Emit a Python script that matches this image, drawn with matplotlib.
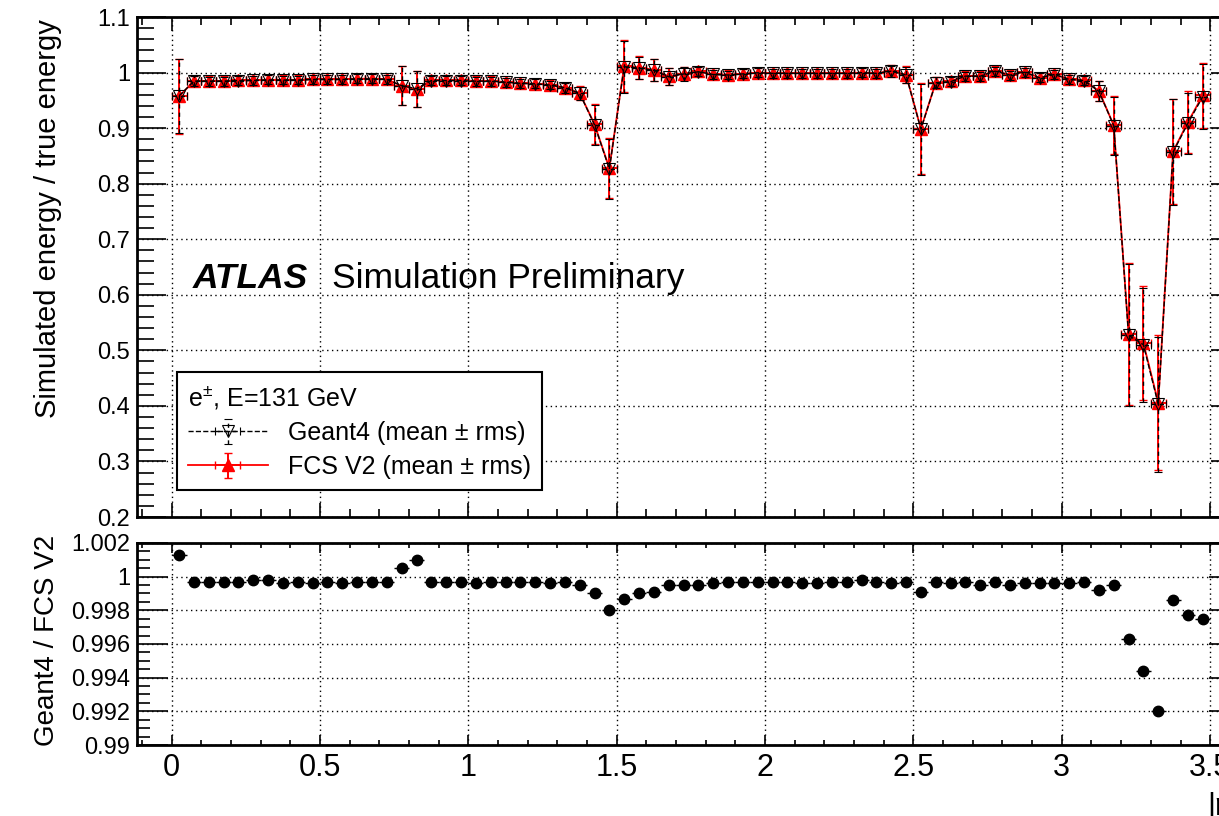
import numpy as np
import matplotlib.pyplot as plt
from matplotlib.ticker import MultipleLocator

plt.rcParams['font.family'] = ['Liberation Sans', 'DejaVu Sans']
plt.rcParams['mathtext.fontset'] = 'custom'
plt.rcParams['mathtext.rm'] = 'Liberation Sans'
plt.rcParams['mathtext.it'] = 'Liberation Sans:italic'

# |eta| bin centres (bins of 0.05)
eta = np.arange(70) * 0.05 + 0.025

# FCS V2 mean of E_sim / E_true per bin
fcs_mean = [0.957, 0.985, 0.985, 0.985, 0.986, 0.986, 0.987, 0.987, 0.987, 0.988,
            0.988, 0.988, 0.989, 0.989, 0.988, 0.976, 0.970, 0.986, 0.986, 0.986,
            0.985, 0.985, 0.983, 0.981, 0.980, 0.978, 0.973, 0.963, 0.907, 0.828,
            1.012, 1.009, 1.005, 0.993, 0.998, 1.002, 0.997, 0.996, 0.998, 1.000,
            0.999, 0.999, 0.999, 0.999, 0.999, 0.999, 1.000, 0.999, 1.003, 0.996,
            0.899, 0.982, 0.984, 0.994, 0.994, 1.003, 0.996, 1.001, 0.991, 0.997,
            0.988, 0.986, 0.967, 0.905, 0.529, 0.513, 0.406, 0.858, 0.911, 0.959]

# rms per bin (Geant4 and FCS bars overlap)
rms = [0.067, 0.009, 0.008, 0.008, 0.008, 0.008, 0.008, 0.008, 0.008, 0.008,
       0.008, 0.008, 0.008, 0.008, 0.008, 0.035, 0.032, 0.008, 0.008, 0.008,
       0.008, 0.008, 0.008, 0.008, 0.008, 0.008, 0.009, 0.012, 0.036, 0.054,
       0.047, 0.020, 0.020, 0.015, 0.012, 0.008, 0.008, 0.008, 0.008, 0.008,
       0.008, 0.008, 0.008, 0.008, 0.008, 0.008, 0.008, 0.008, 0.010, 0.015,
       0.082, 0.010, 0.008, 0.008, 0.008, 0.008, 0.008, 0.008, 0.008, 0.008,
       0.008, 0.008, 0.018, 0.052, 0.128, 0.103, 0.122, 0.095, 0.055, 0.058]

# Geant4 / FCS V2 ratio
ratio = [1.0013, 0.9997, 0.9997, 0.9997, 0.9997, 0.9998, 0.9998, 0.9996, 0.9997, 0.9996,
         0.9997, 0.9996, 0.9997, 0.9997, 0.9997, 1.0005, 1.0010, 0.9997, 0.9997, 0.9997,
         0.9996, 0.9997, 0.9997, 0.9997, 0.9997, 0.9996, 0.9997, 0.9995, 0.9990, 0.9980,
         0.9987, 0.9990, 0.9991, 0.9995, 0.9995, 0.9995, 0.9996, 0.9997, 0.9997, 0.9997,
         0.9997, 0.9997, 0.9996, 0.9996, 0.9997, 0.9997, 0.9998, 0.9997, 0.9996, 0.9997,
         0.9991, 0.9997, 0.9996, 0.9997, 0.9995, 0.9997, 0.9995, 0.9996, 0.9996, 0.9996,
         0.9996, 0.9997, 0.9992, 0.9995, 0.9963, 0.9944, 0.9920, 0.9986, 0.9977, 0.9975]

g4_mean = np.array(fcs_mean) * np.array(ratio)

fig = plt.figure(figsize=(12.19, 8.16), dpi=100)
ax1 = fig.add_axes([0.1124, 0.3664, 0.9047, 0.6127])
ax2 = fig.add_axes([0.1124, 0.0870, 0.9047, 0.2476])

grid_style = dict(color='black', linestyle=(0, (1, 2.5)), linewidth=1.0)

# top panel
fcs = ax1.errorbar(eta, fcs_mean, yerr=rms, xerr=0.025, fmt='-^', color='red',
                   ms=8.5, lw=1.3, elinewidth=1.4, capsize=3, zorder=3,
                   label='FCS V2 (mean ± rms)')
g4 = ax1.errorbar(eta, g4_mean, yerr=rms, xerr=0.025, fmt='--v', color='black',
                  mfc='none', mec='black', ms=8, mew=0.8, lw=1.0, elinewidth=1.0,
                  capsize=3, zorder=4, label='Geant4 (mean ± rms)')
for bar in g4[2]:
    bar.set_linestyle((0, (3, 3)))

ax1.set_xlim(-0.117, 3.6)
ax1.set_ylim(0.2, 1.1)
ax1.xaxis.set_major_locator(MultipleLocator(0.5))
ax1.xaxis.set_minor_locator(MultipleLocator(0.1))
ax1.yaxis.set_major_locator(MultipleLocator(0.1))
ax1.yaxis.set_minor_locator(MultipleLocator(0.02))
ax1.yaxis.set_major_formatter(plt.FuncFormatter(lambda v, p: f'{v:g}'))
ax1.grid(True, which='major', **grid_style)
ax1.set_axisbelow(True)
ax1.tick_params(axis='x', which='major', direction='in', top=True, bottom=True,
                length=10, width=1.2, labelbottom=False)
ax1.tick_params(axis='x', which='minor', direction='in', top=True, bottom=True,
                length=6, width=1.2)
ax1.tick_params(axis='y', which='major', direction='in', left=True, right=True,
                length=21, width=1.2, labelsize=17, pad=5)
ax1.tick_params(axis='y', which='minor', direction='in', left=True, right=True,
                length=12, width=1.2)
ax1.set_ylabel('Simulated energy / true energy', fontsize=21, loc='top')
ax1.yaxis.set_label_coords(-0.068, 0.995)

ax1.text(0.0508, 0.458, 'ATLAS', transform=ax1.transAxes, fontsize=25.5,
         fontweight='bold', fontstyle='italic', va='baseline')
ax1.text(0.1766, 0.458, 'Simulation Preliminary', transform=ax1.transAxes,
         fontsize=25.5, va='baseline')

leg = ax1.legend(handles=[g4, fcs], loc='lower left', bbox_to_anchor=(0.036, 0.054),
                 borderaxespad=0, fontsize=18, title=r'e$^{\pm}$, E=131 GeV',
                 title_fontsize=18, alignment='left', handlelength=3.2,
                 fancybox=False, framealpha=1, edgecolor='black', borderpad=0.45,
                 labelspacing=0.4)
leg.get_frame().set_linewidth(1.5)

# ratio panel
ax2.errorbar(eta, ratio, xerr=0.025, fmt='o', color='black', ms=7.5,
             elinewidth=1.0, capsize=0, zorder=3)
ax2.set_xlim(-0.117, 3.6)
ax2.set_ylim(0.99, 1.002)
ax2.xaxis.set_major_locator(MultipleLocator(0.5))
ax2.xaxis.set_minor_locator(MultipleLocator(0.1))
ax2.yaxis.set_major_locator(MultipleLocator(0.002))
ax2.yaxis.set_minor_locator(MultipleLocator(0.0005))
ax2.xaxis.set_major_formatter(plt.FuncFormatter(lambda v, p: f'{v:g}'))
ax2.yaxis.set_major_formatter(plt.FuncFormatter(lambda v, p: f'{v:g}'))
ax2.grid(True, which='major', **grid_style)
ax2.set_axisbelow(True)
ax2.tick_params(axis='x', which='major', direction='in', top=True, bottom=True,
                length=7, width=1.2, labelsize=22, pad=6)
ax2.tick_params(axis='x', which='minor', direction='in', top=True, bottom=True,
                length=3.5, width=1.2)
ax2.tick_params(axis='y', which='major', direction='in', left=True, right=True,
                length=22, width=1.2, labelsize=17, pad=5)
ax2.tick_params(axis='y', which='minor', direction='in', left=True, right=True,
                length=9, width=1.2)
ax2.set_ylabel('Geant4 / FCS V2', fontsize=20)
ax2.yaxis.set_label_coords(-0.07, 0.52)
ax2.set_xlabel('|η|', fontsize=22, loc='right', labelpad=6)

for ax in (ax1, ax2):
    for sp in ax.spines.values():
        sp.set_linewidth(2)

fig.savefig('out.png', dpi=100)
